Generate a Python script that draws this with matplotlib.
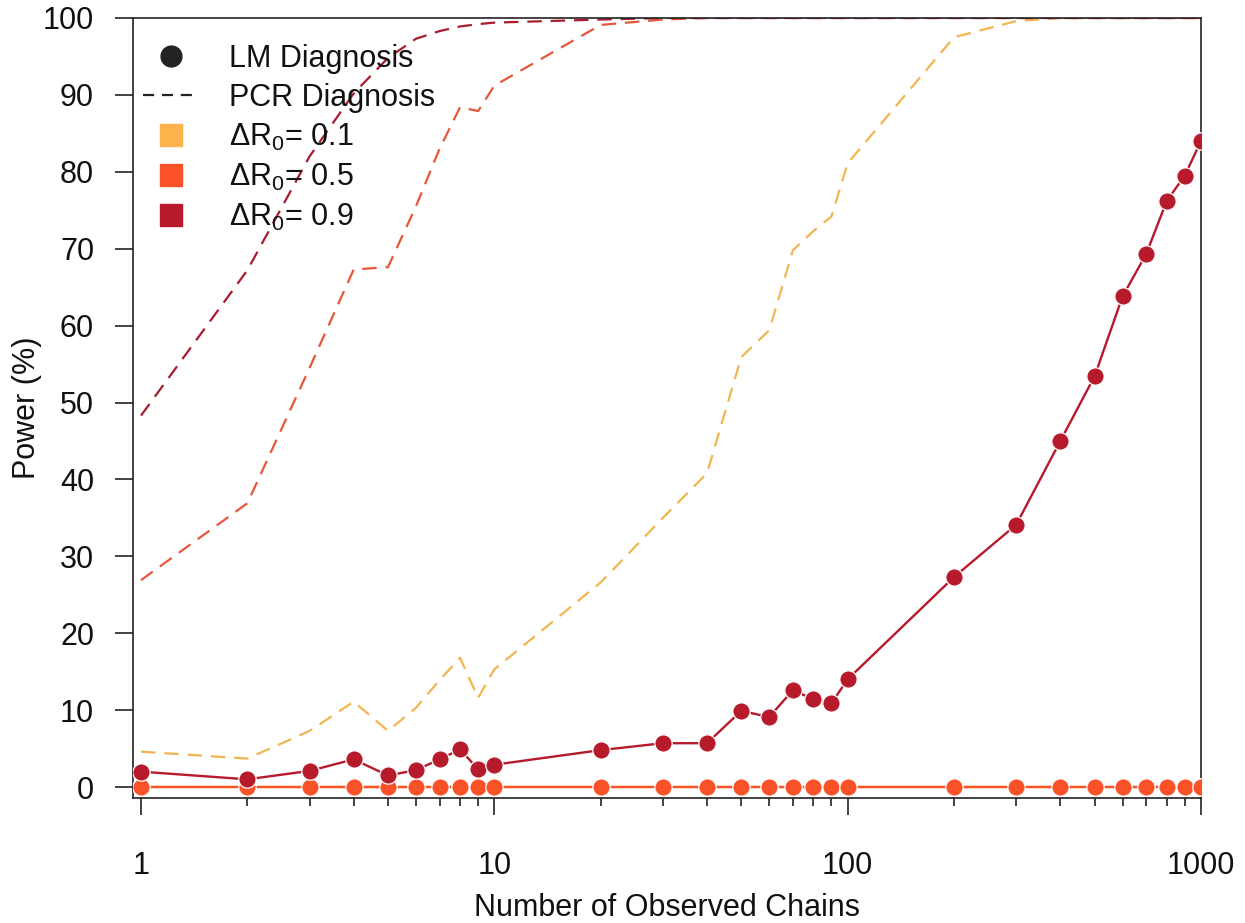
import matplotlib
matplotlib.use("Agg")
import matplotlib.pyplot as plt
from matplotlib.lines import Line2D
import numpy as np

plt.rcParams['font.family'] = ['Liberation Sans', 'DejaVu Sans']
plt.rcParams['mathtext.fontset'] = 'custom'
plt.rcParams['mathtext.rm'] = 'Liberation Sans'
plt.rcParams['mathtext.it'] = 'Liberation Sans:italic'

# number of observed chains
chains = [1, 2, 3, 4, 5, 6, 7, 8, 9, 10,
          20, 30, 40, 50, 60, 70, 80, 90, 100,
          200, 300, 400, 500, 600, 700, 800, 900, 1000]

# LM diagnosis power (%)
lm_01 = [0] * 28
lm_05 = [0] * 28
lm_09 = [2.0, 1.0, 2.1, 3.6, 1.5, 2.2, 3.6, 4.9, 2.3, 2.9,
         4.8, 5.7, 5.7, 9.9, 9.1, 12.6, 11.4, 10.9, 14.0,
         27.3, 34.1, 45.0, 53.4, 63.8, 69.3, 76.2, 79.5, 84.0]

# PCR diagnosis power (%)
pcr_01 = [4.6, 3.7, 7.3, 11.1, 7.3, 10.3, 13.9, 16.8, 11.6, 15.3,
          26.6, 35.0, 40.8, 55.9, 59.4, 69.8, 72.3, 74.2, 81.1,
          97.5, 99.6, 100, 100, 100, 100, 100, 100, 100]
pcr_05 = [26.9, 36.9, 54.5, 67.3, 67.6, 75.5, 83.0, 88.4, 87.9, 91.2,
          99.1, 99.8, 100, 100, 100, 100, 100, 100, 100,
          100, 100, 100, 100, 100, 100, 100, 100, 100]
pcr_09 = [48.3, 67.2, 82.0, 90.2, 94.8, 97.3, 98.3, 98.9, 99.2, 99.4,
          99.8, 100, 100, 100, 100, 100, 100, 100, 100,
          100, 100, 100, 100, 100, 100, 100, 100, 100]

c01 = '#FDB24C'
c05 = '#FA5228'
c09 = '#B71A2B'
dc01 = '#F2B552'
dc05 = '#E6573A'
dc09 = '#A81C2E'

fig = plt.figure(figsize=(12.45, 9.23), dpi=100)
ax = fig.add_axes([0.1068, 0.1354, 0.8578, 0.8451])

dash = (6.5, 4)
ax.plot(chains, pcr_01, color=dc01, lw=1.6, dashes=dash, zorder=2)
ax.plot(chains, pcr_05, color=dc05, lw=1.6, dashes=dash, zorder=2)
ax.plot(chains, pcr_09, color=dc09, lw=1.6, dashes=dash, zorder=2)

mk = dict(marker='o', ms=12.5, mec='white', mew=0.9, lw=1.7, zorder=3)
ax.plot(chains, lm_01, color=c01, **mk)
ax.plot(chains, lm_05, color=c05, **mk)
ax.plot(chains, lm_09, color=c09, **mk)

ax.set_xscale('log')
ax.set_xlim(0.949, 1000)
ax.set_ylim(-1.43, 100)

ax.set_xticks([1, 10, 100, 1000])
ax.set_xticklabels(['1', '10', '100', '1000'])
minor = [v for d in (1, 10, 100) for v in np.arange(2, 10) * d]
ax.set_xticks(minor, minor=True)
ax.xaxis.set_minor_formatter(matplotlib.ticker.NullFormatter())
ax.set_yticks(np.arange(0, 101, 10))

for s in ax.spines.values():
    s.set_linewidth(1.2)
    s.set_color('#222222')
ax.tick_params(axis='both', which='major', direction='out', width=1.2,
               color='#222222', labelsize=22, labelcolor='#111111')
ax.tick_params(axis='x', which='major', length=12.5, pad=26)
ax.tick_params(axis='x', which='minor', length=6, width=1.2, color='#222222')
ax.tick_params(axis='y', which='major', length=13, pad=15)

ax.set_xlabel('Number of Observed Chains', fontsize=22, color='#111111')
ax.set_ylabel('Power (%)', fontsize=22, color='#111111')
ax.xaxis.set_label_coords(0.5, -0.122)
ax.yaxis.set_label_coords(-0.085, 0.5)

handles = [
    Line2D([], [], marker='o', ls='none', color='#222222', ms=15),
    Line2D([], [], color='#222222', lw=1.6, dashes=(5, 3.5)),
    Line2D([], [], marker='s', ls='none', color=c01, ms=16),
    Line2D([], [], marker='s', ls='none', color=c05, ms=16),
    Line2D([], [], marker='s', ls='none', color=c09, ms=16),
]
labels = ['LM Diagnosis', 'PCR Diagnosis',
          r'ΔR$_0$= 0.1', r'ΔR$_0$= 0.5', r'ΔR$_0$= 0.9']
ax.legend(handles, labels, loc='upper left', bbox_to_anchor=(-0.0075, 0.99),
          frameon=False, fontsize=22, handlelength=1.8, handletextpad=1.0,
          labelspacing=0.29, borderaxespad=0.2, labelcolor='#111111')

fig.savefig('out.png', dpi=100)
